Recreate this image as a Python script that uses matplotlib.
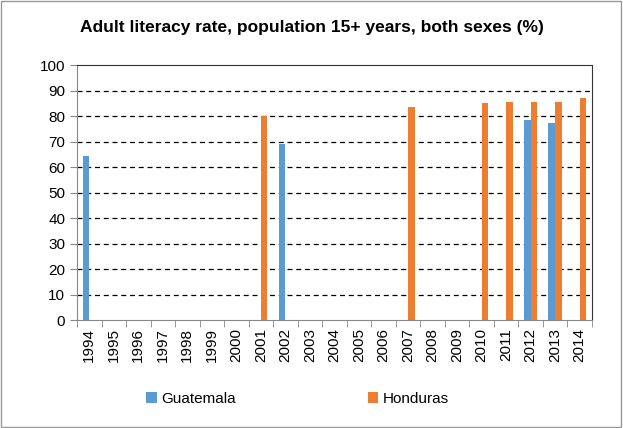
import matplotlib
matplotlib.use("Agg")
import matplotlib.pyplot as plt
import numpy as np
from matplotlib.patches import Rectangle

years = [str(y) for y in range(1994, 2015)]
guatemala = {"1994": 64.3, "2002": 69.1, "2012": 78.4, "2013": 77.1}
honduras = {"2001": 80.0, "2007": 83.6, "2010": 85.1, "2011": 85.4,
            "2012": 85.5, "2013": 85.5, "2014": 87.2}
yticks = list(range(0, 101, 10))

blue = "#5b9bd5"
orange = "#ed7d31"

plt.rcParams['font.family'] = ['Liberation Sans', 'DejaVu Sans']

fig = plt.figure(figsize=(6.23, 4.28), dpi=100)
ax = fig.add_axes([0.1236, 0.2523, 0.8264, 0.5957])

x = np.arange(len(years))
w = 0.27
gx = [years.index(k) for k in guatemala]
hx = [years.index(k) for k in honduras]
ax.bar(np.array(gx) - w / 2, list(guatemala.values()), width=w, color=blue,
       label="Guatemala", linewidth=0)
ax.bar(np.array(hx) + w / 2, list(honduras.values()), width=w, color=orange,
       label="Honduras", linewidth=0)

ax.set_xlim(-0.5, len(years) - 0.5)
ax.set_ylim(0, 100)
ax.set_yticks(yticks)
ax.set_yticklabels([str(t) for t in yticks], fontsize=11)
ax.yaxis.grid(True, linestyle=(0, (4, 3)), color="black", linewidth=0.9)
ax.set_axisbelow(True)
gl = ax.yaxis.get_gridlines()
gl[0].set_visible(False)
gl[-1].set_visible(False)

ax.set_xticks(x)
ax.set_xticklabels(years, rotation=90, fontsize=11)
ax.tick_params(axis='x', length=0, pad=6)
ax.set_xticks(np.arange(-0.5, len(years), 1), minor=True)
ax.tick_params(axis='x', which='minor', length=5, color="#888888", direction='out')
ax.tick_params(axis='y', length=5, color="#888888", direction='out')

for s in ["left", "bottom"]:
    ax.spines[s].set_color("#888888")
for s in ["top", "right"]:
    ax.spines[s].set_color("#333333")

fig.text(0.5, 0.935, "Adult literacy rate, population 15+ years, both sexes (%)",
         ha="center", va="center", fontsize=12.5, fontweight="bold")

leg = fig.legend(loc="center", bbox_to_anchor=(0.478, 0.068), ncol=2, frameon=False,
                 fontsize=11, handlelength=0.7, handleheight=0.7, handletextpad=0.3,
                 columnspacing=8.6)

fig.patches.append(Rectangle((0.002, 0.003), 0.994, 0.994, transform=fig.transFigure,
                             fill=False, edgecolor="#999999", linewidth=1))

fig.savefig("out.png", dpi=100)
